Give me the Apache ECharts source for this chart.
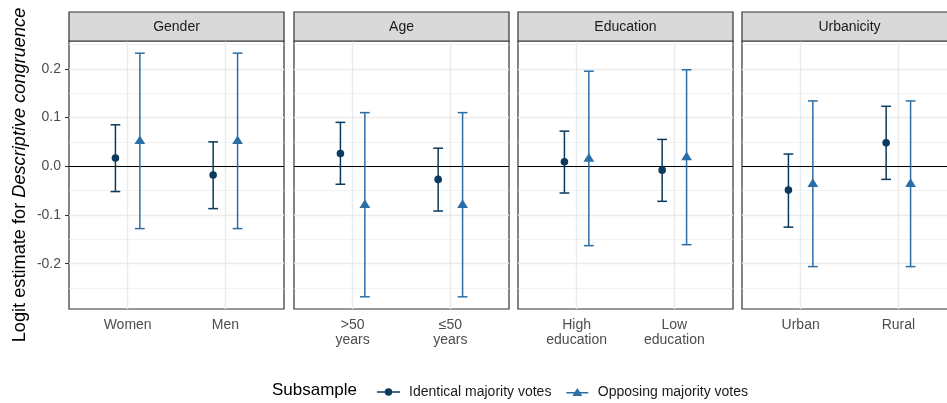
<!DOCTYPE html>
<html>
<head>
<meta charset="utf-8">
<script src="https://cdn.jsdelivr.net/npm/echarts@6/dist/echarts.min.js"></script>
<style>html,body{margin:0;padding:0;background:#fff;overflow:hidden}#c{width:962px;height:403px}</style>
</head>
<body>
<div id="c"></div>
<script>
// ---------- data ----------
const panels = ['Gender', 'Age', 'Education', 'Urbanicity'];
const categories = [
  ['Women', 'Men'],
  ['>50\nyears', '≤50\nyears'],
  ['High\neducation', 'Low\neducation'],
  ['Urban', 'Rural']
];
const seriesNames = ['Identical majority votes', 'Opposing majority votes'];
const identicalEst  = [[0.017, -0.018], [0.026, -0.027], [0.009, -0.008], [-0.049, 0.048]];
const identicalLow  = [[-0.052, -0.087], [-0.037, -0.092], [-0.055, -0.072], [-0.125, -0.027]];
const identicalHigh = [[0.085, 0.050], [0.090, 0.037], [0.072, 0.055], [0.025, 0.123]];
const opposingEst   = [[0.053, 0.053], [-0.078, -0.078], [0.017, 0.020], [-0.035, -0.035]];
const opposingLow   = [[-0.128, -0.128], [-0.268, -0.268], [-0.163, -0.161], [-0.206, -0.206]];
const opposingHigh  = [[0.232, 0.232], [0.110, 0.110], [0.195, 0.198], [0.134, 0.134]];
const yTicks = [-0.2, -0.1, 0, 0.1, 0.2];
const yMinor = [-0.25, -0.15, -0.05, 0.05, 0.15, 0.25];
const yTitle = 'Logit estimate for ';
const yTitleItalic = 'Descriptive congruence';
const legendTitle = 'Subsample';

// ---------- layout / style ----------
const FONT = '"Liberation Sans", Arial, Helvetica, sans-serif';
const panelLeft = [69, 294, 518, 742];
const PW = 215, PT = 41, PH = 268, STRIP_TOP = 12;
const yMin = -0.293, yMax = 0.257;
const xMin = 0.4, xMax = 2.6;
const dodge = 0.125, capHalf = 0.05;
const colors = ['#0b3a5c', '#2b6ea6'];

function renderer(offset, shape, color) {
  return function (params, api) {
    const x = api.value(0) + offset;
    const top = api.coord([x, api.value(3)]);
    const bot = api.coord([x, api.value(2)]);
    const mid = api.coord([x, api.value(1)]);
    const xl = api.coord([x - capHalf, 0])[0];
    const xr = api.coord([x + capHalf, 0])[0];
    const ls = { stroke: color, lineWidth: 1.5 };
    const children = [
      { type: 'line', shape: { x1: top[0], y1: top[1], x2: bot[0], y2: bot[1] }, style: ls },
      { type: 'line', shape: { x1: xl, y1: top[1], x2: xr, y2: top[1] }, style: ls },
      { type: 'line', shape: { x1: xl, y1: bot[1], x2: xr, y2: bot[1] }, style: ls }
    ];
    if (shape === 'circle') {
      children.push({ type: 'circle', shape: { cx: mid[0], cy: mid[1], r: 3.8 }, style: { fill: color } });
    } else {
      children.push({ type: 'polygon', shape: { points: [
        [mid[0] - 5.4, mid[1] + 3.7], [mid[0] + 5.4, mid[1] + 3.7], [mid[0], mid[1] - 5]
      ] }, style: { fill: color } });
    }
    return { type: 'group', children: children };
  };
}

const grids = [], xAxes = [], yAxes = [], series = [], graphics = [];
panels.forEach(function (name, i) {
  grids.push({ left: panelLeft[i], top: PT, width: PW, height: PH, show: true,
    borderColor: '#333333', borderWidth: 1.2, backgroundColor: '#ffffff', containLabel: false });
  xAxes.push({
    type: 'value', gridIndex: i, min: xMin, max: xMax,
    axisLine: { show: false }, splitLine: { show: false },
    axisTick: { show: true, length: 4, customValues: [1, 2], lineStyle: { color: '#333333', width: 1.1 } },
    axisLabel: { show: true, customValues: [1, 2], margin: 9, color: '#4d4d4d', fontSize: 14,
      lineHeight: 14.5, fontFamily: FONT,
      formatter: function (v) { return categories[i][Math.round(v) - 1]; } }
  });
  yAxes.push({
    type: 'value', gridIndex: i, min: yMin, max: yMax,
    axisLine: { show: false }, splitLine: { show: false },
    axisTick: { show: i === 0, length: 4, customValues: yTicks, lineStyle: { color: '#333333', width: 1.1 } },
    axisLabel: { show: i === 0, customValues: yTicks, margin: 8, color: '#4d4d4d', fontSize: 14,
      fontFamily: FONT, formatter: function (v) { return Number(v).toFixed(1); } }
  });
  const lines = [];
  yMinor.forEach(function (v) { lines.push({ yAxis: v, lineStyle: { color: '#ebebeb', width: 0.7, type: 'solid' } }); });
  yTicks.forEach(function (v) { lines.push({ yAxis: v, lineStyle: { color: '#ebebeb', width: 1.4, type: 'solid' } }); });
  [1, 2].forEach(function (v) { lines.push({ xAxis: v, lineStyle: { color: '#ebebeb', width: 1.4, type: 'solid' } }); });
  lines.push({ yAxis: 0, lineStyle: { color: '#000000', width: 1.2, type: 'solid' } });

  const dIdent = [0, 1].map(function (k) { return [k + 1, identicalEst[i][k], identicalLow[i][k], identicalHigh[i][k]]; });
  const dOpp = [0, 1].map(function (k) { return [k + 1, opposingEst[i][k], opposingLow[i][k], opposingHigh[i][k]]; });

  series.push({
    type: 'custom', name: seriesNames[0], xAxisIndex: i, yAxisIndex: i, z: 3,
    itemStyle: { color: colors[0] }, renderItem: renderer(-dodge, 'circle', colors[0]),
    encode: { x: 0, y: [1, 2, 3] }, data: dIdent, silent: true, animation: false,
    markLine: { silent: true, symbol: ['none', 'none'], z: 1, label: { show: false }, animation: false, data: lines }
  });
  series.push({
    type: 'custom', name: seriesNames[1], xAxisIndex: i, yAxisIndex: i, z: 3,
    itemStyle: { color: colors[1] }, renderItem: renderer(dodge, 'triangle', colors[1]),
    encode: { x: 0, y: [1, 2, 3] }, data: dOpp, silent: true, animation: false
  });

  graphics.push({ type: 'rect', z: 10, shape: { x: panelLeft[i], y: STRIP_TOP, width: PW, height: PT - STRIP_TOP },
    style: { fill: '#d9d9d9', stroke: '#333333', lineWidth: 1.2 } });
  graphics.push({ type: 'text', z: 11, x: panelLeft[i] + PW / 2, y: (STRIP_TOP + PT) / 2 + 0.5,
    style: { text: name, fontSize: 14, fontFamily: FONT, fill: '#1a1a1a', align: 'center', verticalAlign: 'middle' } });
});

graphics.push({ type: 'text', x: 20, y: 175, rotation: Math.PI / 2,
  style: { text: yTitle + '{it|' + yTitleItalic + '}', fontSize: 18.2, fontFamily: FONT, fill: '#000000',
    align: 'center', verticalAlign: 'middle',
    rich: { it: { fontStyle: 'italic', fontSize: 18.2, fontFamily: FONT, fill: '#000000' } } } });
graphics.push({ type: 'text', x: 272, y: 390,
  style: { text: legendTitle, fontSize: 17, fontFamily: FONT, fill: '#000000', align: 'left', verticalAlign: 'middle' } });

const iconCircle = 'path://M0,3.3H23V4.7H0Z M7.8,4A3.7,3.7 0 1 1 15.2,4A3.7,3.7 0 1 1 7.8,4Z';
const iconTri = 'path://M0,4.3H23V5.7H0Z M11.5,0L16.7,8.4L6.3,8.4Z';

const option = {
  animation: false,
  backgroundColor: '#ffffff',
  grid: grids, xAxis: xAxes, yAxis: yAxes, series: series, graphic: graphics,
  legend: {
    left: 372, top: 380, orient: 'horizontal', itemWidth: 23, itemHeight: 8, itemGap: 15,
    selectedMode: false,
    textStyle: { fontSize: 14, color: '#1a1a1a', fontFamily: FONT, padding: [0, 0, 0, 4] },
    data: [
      { name: seriesNames[0], icon: iconCircle, itemStyle: { color: colors[0] } },
      { name: seriesNames[1], icon: iconTri, itemStyle: { color: colors[1] } }
    ]
  }
};
const chart = echarts.init(document.getElementById('c'), null, { renderer: 'canvas' });
chart.setOption(option);
</script>
</body>
</html>
